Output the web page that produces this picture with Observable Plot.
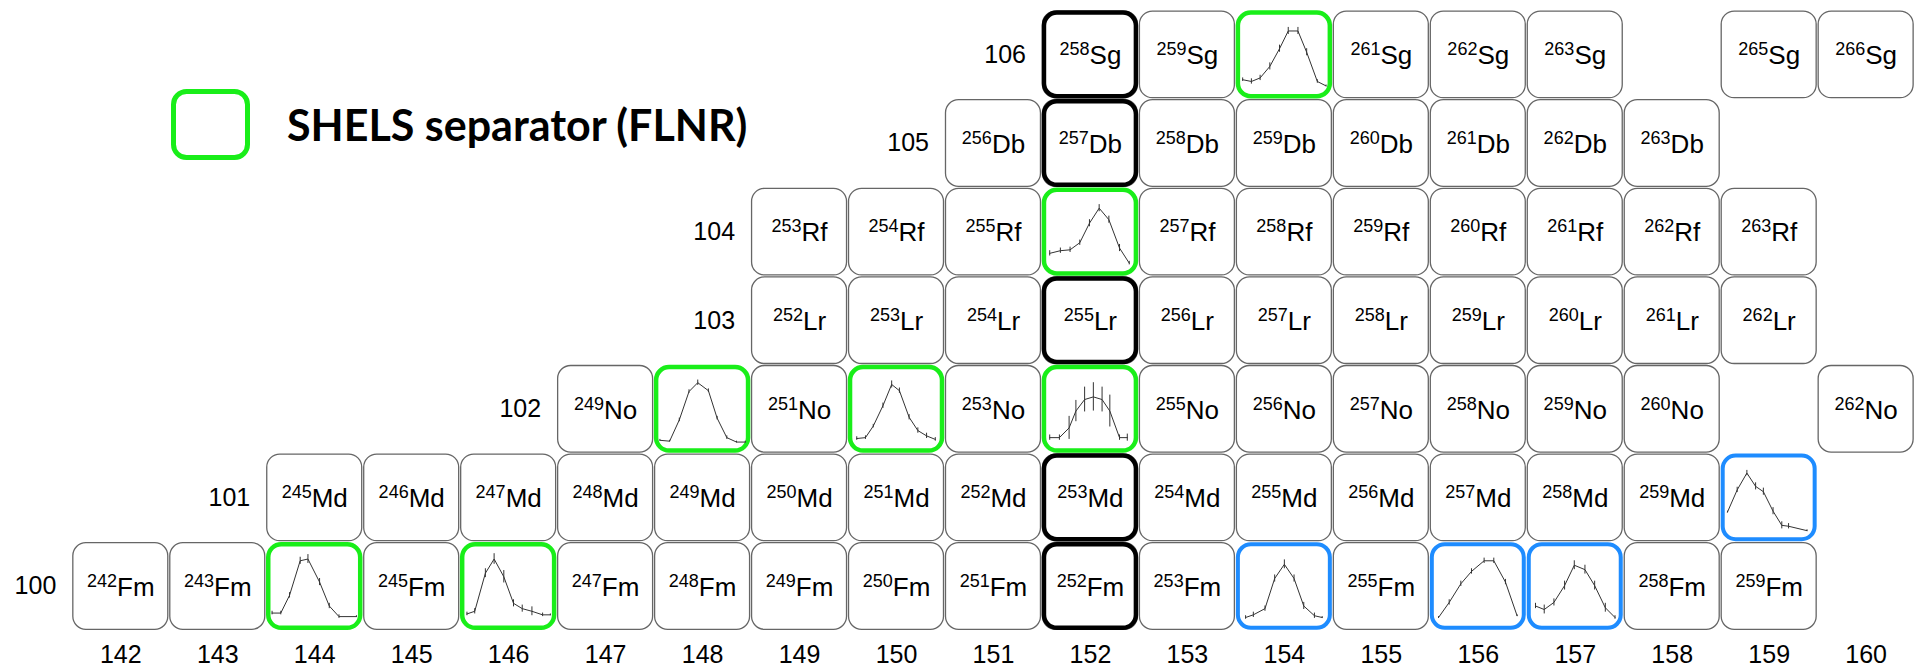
<!DOCTYPE html>
<html>
<head>
<meta charset="utf-8">
<script src="https://cdn.jsdelivr.net/npm/d3@7"></script>
<script src="https://cdn.jsdelivr.net/npm/@observablehq/plot@0.6"></script>
<style>
  html, body { margin: 0; padding: 0; background: #fff; }
  #wrap { position: relative; width: 1915px; height: 669px; overflow: hidden; }
  #legend { position: absolute; left: 171px; top: 89px; display: flex; align-items: center; }
  #legend .txt { position: absolute; left: 116px; top: 14px; font-family: Lato, "Open Sans", sans-serif; font-weight: 700; font-size: 43px; line-height: 43px; white-space: nowrap; color: #000; }
</style>
</head>
<body>
<div id="wrap">
  <div id="chart"></div>
  <div id="legend">
    <svg width="80" height="72"><rect x="2.5" y="2.5" width="74" height="66" rx="13" ry="13" fill="none" stroke="#19ee19" stroke-width="5"></rect></svg>
    <div class="txt">SHELS separator (FLNR)</div>
  </div>
</div>
<script>
// ---- data ----
const colTicks = [142,143,144,145,146,147,148,149,150,151,152,153,154,155,156,157,158,159,160];
const rowZ = [100,101,102,103,104,105,106];
const rowSymbols = ["Fm","Md","No","Lr","Rf","Db","Sg"];
const fmN = [142,143,144,145,146,147,148,149,150,151,152,153,154,155,156,157,158,159];
const mdN = [144,145,146,147,148,149,150,151,152,153,154,155,156,157,158,159];
const noN = [147,148,149,150,151,152,153,154,155,156,157,158,160];
const lrN = [149,150,151,152,153,154,155,156,157,158,159];
const rfN = [149,150,151,152,153,154,155,156,157,158,159];
const dbN = [151,152,153,154,155,156,157,158];
const sgN = [152,153,154,155,156,157,159,160];

const blackBoxes = [[152,100],[152,101],[152,103],[152,105],[152,106]];
const greenBoxes = [[144,100],[146,100],[148,102],[150,102],[152,102],[152,104],[154,106]];
const blueBoxes  = [[154,100],[156,100],[157,100],[159,101]];

// sparkline points: [x fraction, y fraction, error half-length]
const spark244Fm = [[0.06,0.20,0.02],[0.15,0.20,0.02],[0.24,0.40,0.03],[0.35,0.79,0.04],[0.43,0.81,0.05],[0.55,0.55,0.04],[0.65,0.28,0.03],[0.75,0.16,0.02],[0.93,0.16,0.01]];
const spark246Fm = [[0.07,0.19,0.02],[0.15,0.22,0.03],[0.26,0.65,0.05],[0.35,0.81,0.06],[0.45,0.61,0.07],[0.55,0.31,0.04],[0.64,0.25,0.04],[0.74,0.22,0.05],[0.85,0.18,0.02],[0.93,0.18,0.01]];
const spark254Fm = [[0.10,0.15,0.02],[0.18,0.18,0.03],[0.30,0.25,0.03],[0.40,0.59,0.04],[0.50,0.75,0.05],[0.60,0.59,0.04],[0.70,0.28,0.04],[0.81,0.17,0.03],[0.89,0.15,0.01]];
const spark256Fm = [[0.09,0.15,0.01],[0.20,0.32,0.03],[0.32,0.53,0.03],[0.43,0.67,0.03],[0.56,0.79,0.03],[0.66,0.79,0.03],[0.78,0.55,0.03],[0.90,0.17,0.01]];
const spark257Fm = [[0.09,0.28,0.03],[0.18,0.24,0.05],[0.28,0.32,0.04],[0.39,0.51,0.05],[0.49,0.74,0.05],[0.60,0.69,0.05],[0.70,0.51,0.05],[0.81,0.26,0.05],[0.91,0.15,0.02]];
const spark260Md = [[0.07,0.34,0.01],[0.17,0.59,0.03],[0.27,0.78,0.03],[0.36,0.63,0.04],[0.44,0.57,0.04],[0.54,0.35,0.04],[0.63,0.19,0.04],[0.70,0.18,0.03],[0.89,0.13,0.01]];
const spark250No = [[0.06,0.15,0.01],[0.16,0.14,0.01],[0.26,0.38,0.02],[0.36,0.70,0.02],[0.45,0.80,0.03],[0.56,0.71,0.02],[0.65,0.40,0.02],[0.75,0.18,0.02],[0.85,0.13,0.01],[0.94,0.13,0.01]];
const spark252No = [[0.09,0.17,0.02],[0.18,0.18,0.02],[0.26,0.31,0.02],[0.36,0.54,0.03],[0.45,0.78,0.04],[0.53,0.71,0.03],[0.63,0.41,0.03],[0.72,0.26,0.03],[0.81,0.20,0.03],[0.90,0.16,0.02]];
const spark254No = [[0.08,0.18,0.03],[0.18,0.18,0.03],[0.28,0.29,0.13],[0.35,0.48,0.12],[0.44,0.61,0.14],[0.53,0.64,0.16],[0.62,0.61,0.14],[0.70,0.48,0.18],[0.80,0.18,0.03],[0.88,0.18,0.04]];
const spark256Rf = [[0.08,0.26,0.03],[0.19,0.29,0.03],[0.29,0.30,0.03],[0.39,0.38,0.03],[0.49,0.60,0.04],[0.59,0.77,0.04],[0.69,0.64,0.04],[0.80,0.32,0.04],[0.90,0.15,0.02]];
const spark260Sg = [[0.07,0.22,0.02],[0.16,0.20,0.03],[0.25,0.24,0.03],[0.35,0.37,0.04],[0.45,0.57,0.04],[0.54,0.77,0.04],[0.64,0.77,0.04],[0.73,0.53,0.04],[0.84,0.20,0.02],[0.93,0.15,0.01]];

const sparklines = [
  {N:144, Z:100, pts: spark244Fm},
  {N:146, Z:100, pts: spark246Fm},
  {N:154, Z:100, pts: spark254Fm},
  {N:156, Z:100, pts: spark256Fm},
  {N:157, Z:100, pts: spark257Fm},
  {N:159, Z:101, pts: spark260Md},
  {N:148, Z:102, pts: spark250No},
  {N:150, Z:102, pts: spark252No},
  {N:152, Z:102, pts: spark254No},
  {N:152, Z:104, pts: spark256Rf},
  {N:154, Z:106, pts: spark260Sg}
];

// ---- build tables ----
const rowN = [fmN, mdN, noN, lrN, rfN, dbN, sgN];
const sparkKey = new Set(sparklines.map(s => s.N + "_" + s.Z));
const nuclides = [];
rowZ.forEach((Z, i) => rowN[i].forEach(N => nuclides.push({N, Z, A: N + Z, sym: rowSymbols[i], spark: sparkKey.has(N + "_" + Z)})));
const plain = nuclides.filter(d => !d.spark);
const labelled = nuclides.filter(d => !d.spark);
const rowLabels = rowZ.map((Z, i) => ({Z, first: d3.min(rowN[i])}));
const sparkPts = sparklines.flatMap((s, k) => s.pts.map(([fx, fy, e]) => ({id: k, N: s.N, Z: s.Z, fx, fy, e})));
const toBox = arr => arr.map(([N, Z]) => ({N, Z}));

const boxOpts = (extra) => Object.assign({
  x1: d => d.N - 0.5, x2: d => d.N + 0.5,
  y1: d => d.Z - 0.5, y2: d => d.Z + 0.5,
  rx: 13, ry: 13, fill: "white"
}, extra);

const chart = Plot.plot({
  width: 1915,
  height: 669,
  margin: 0,
  x: {domain: [140.7593, 160.509], axis: null},
  y: {domain: [99.063, 106.614], axis: null},
  style: {fontFamily: "'Liberation Sans', Arial, Helvetica, sans-serif", background: "white"},
  marks: [
    Plot.rect(plain, boxOpts({stroke: "#666", strokeWidth: 1.3, inset: 1})),
    Plot.rect(toBox(blackBoxes), boxOpts({stroke: "#000", strokeWidth: 4.5, inset: 2.5})),
    Plot.rect(toBox(greenBoxes), boxOpts({stroke: "#19ee19", strokeWidth: 4.5, inset: 2.5})),
    Plot.rect(toBox(blueBoxes), boxOpts({stroke: "#1e8cff", strokeWidth: 4, inset: 2.5})),
    Plot.line(sparkPts, {x: d => d.N - 0.5 + d.fx, y: d => d.Z - 0.5 + d.fy, z: "id", stroke: "#333", strokeWidth: 1}),
    Plot.ruleX(sparkPts, {x: d => d.N - 0.5 + d.fx, y1: d => d.Z - 0.5 + d.fy - d.e, y2: d => d.Z - 0.5 + d.fy + d.e, stroke: "#333", strokeWidth: 1}),
    Plot.text(labelled, {x: "N", y: "Z", text: d => `${d.A}${d.sym}`, fontSize: 26, fill: "black", dy: 1}),
    Plot.text(rowLabels, {x: d => d.first - 0.5, y: "Z", text: d => String(d.Z), textAnchor: "end", dx: -16, fontSize: 25, fill: "black"}),
    Plot.text(colTicks, {x: d => d, frameAnchor: "bottom", lineAnchor: "middle", text: d => String(d), dy: -15, fontSize: 25, fill: "black"})
  ]
});

// superscript mass numbers
const ns = "http://www.w3.org/2000/svg";
chart.querySelectorAll("text").forEach(t => {
  const m = t.textContent.match(/^(\d+)([A-Z][a-z]?)$/);
  if (!m) return;
  t.textContent = "";
  const a = document.createElementNS(ns, "tspan");
  a.setAttribute("font-size", "18");
  a.setAttribute("dy", "-9");
  a.textContent = m[1];
  const b = document.createElementNS(ns, "tspan");
  b.setAttribute("dy", "9");
  b.textContent = m[2];
  t.append(a, b);
});

document.getElementById("chart").append(chart);
</script>
</body>
</html>
